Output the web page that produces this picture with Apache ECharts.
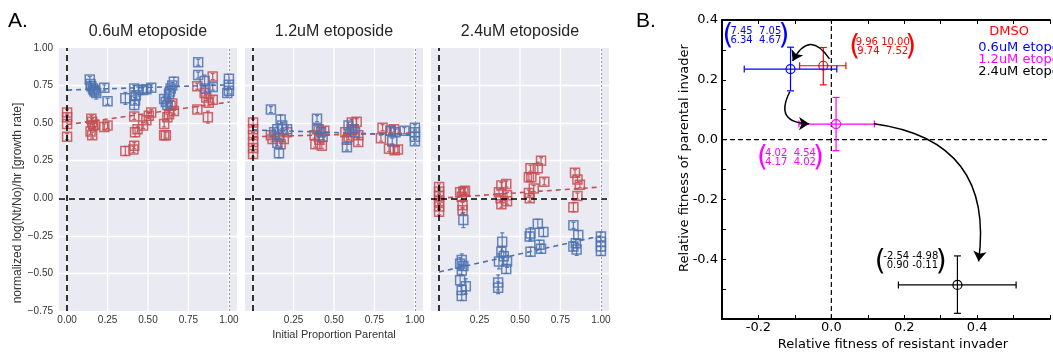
<!DOCTYPE html>
<html>
<head>
<meta charset="utf-8">
<script src="https://cdn.jsdelivr.net/npm/echarts@6/dist/echarts.min.js"></script>
<style>
  html, body { margin: 0; padding: 0; background: #fff; }
  #chart { width: 1053px; height: 354px; }
</style>
</head>
<body>
<div id="chart"></div>
<script>
// ---------- Panel A data: [initial proportion parental, growth rate, error] ----------
const panelTitles = ['0.6uM etoposide', '1.2uM etoposide', '2.4uM etoposide'];
const xGridTicks = [0, 0.25, 0.5, 0.75, 1.0];

const blueLow = [[0.14,0.79,0.02],[0.145,0.76,0.02],[0.15,0.745,0.02],[0.16,0.73,0.02],[0.165,0.72,0.02],[0.17,0.71,0.03],[0.18,0.70,0.04],[0.23,0.735,0.02],[0.25,0.645,0.02],[0.36,0.665,0.04],[0.415,0.73,0.02],[0.425,0.685,0.02],[0.42,0.65,0.02],[0.415,0.62,0.03],[0.44,0.72,0.02],[0.47,0.72,0.02],[0.49,0.725,0.02],[0.52,0.735,0.02],[0.60,0.66,0.02],[0.61,0.64,0.02],[0.62,0.62,0.02],[0.63,0.695,0.02],[0.635,0.71,0.02],[0.64,0.73,0.02],[0.65,0.75,0.02],[0.66,0.775,0.03],[0.81,0.905,0.02],[0.81,0.82,0.02],[0.85,0.78,0.04],[0.855,0.73,0.02],[0.90,0.74,0.02],[1.0,0.795,0.03],[1.0,0.755,0.02],[1.0,0.715,0.02],[0.99,0.70,0.02]];
const redLow = [[0.0,0.57,0.02],[0.0,0.54,0.02],[0.0,0.495,0.02],[0.0,0.41,0.02],[0.15,0.53,0.02],[0.155,0.51,0.02],[0.16,0.485,0.02],[0.145,0.445,0.02],[0.155,0.42,0.02],[0.17,0.49,0.02],[0.23,0.475,0.02],[0.25,0.485,0.02],[0.36,0.315,0.03],[0.41,0.325,0.02],[0.415,0.35,0.02],[0.42,0.44,0.03],[0.435,0.46,0.02],[0.415,0.545,0.02],[0.47,0.485,0.02],[0.49,0.52,0.02],[0.505,0.55,0.02],[0.52,0.57,0.02],[0.60,0.495,0.02],[0.60,0.42,0.03],[0.61,0.42,0.02],[0.62,0.54,0.02],[0.63,0.56,0.02],[0.64,0.615,0.02],[0.65,0.63,0.02],[0.66,0.58,0.02],[0.805,0.745,0.02],[0.805,0.59,0.02],[0.86,0.67,0.02],[0.87,0.54,0.04],[0.85,0.70,0.02],[0.90,0.81,0.02],[0.90,0.655,0.02],[0.875,0.635,0.02]];

const blueMid = [[0.11,0.59,0.02],[0.17,0.525,0.03],[0.18,0.485,0.02],[0.15,0.46,0.02],[0.13,0.44,0.02],[0.21,0.46,0.02],[0.16,0.30,0.03],[0.15,0.37,0.02],[0.395,0.53,0.02],[0.395,0.46,0.02],[0.42,0.44,0.02],[0.43,0.41,0.02],[0.58,0.34,0.02],[0.59,0.485,0.02],[0.61,0.46,0.02],[0.63,0.44,0.02],[0.85,0.45,0.02],[0.88,0.44,0.02],[0.935,0.45,0.02],[0.86,0.38,0.02],[1.0,0.47,0.02],[1.0,0.44,0.02],[1.0,0.41,0.02],[1.0,0.38,0.02]];
const redMid = [[0.0,0.505,0.02],[0.0,0.46,0.02],[0.0,0.42,0.02],[0.0,0.375,0.02],[0.0,0.335,0.02],[0.0,0.295,0.02],[0.11,0.42,0.02],[0.12,0.395,0.02],[0.16,0.41,0.02],[0.17,0.36,0.02],[0.19,0.395,0.02],[0.21,0.44,0.02],[0.38,0.42,0.02],[0.405,0.46,0.02],[0.44,0.45,0.02],[0.385,0.36,0.02],[0.425,0.35,0.02],[0.41,0.39,0.02],[0.57,0.44,0.02],[0.59,0.41,0.02],[0.58,0.39,0.02],[0.61,0.505,0.02],[0.64,0.51,0.02],[0.62,0.46,0.02],[0.65,0.42,0.02],[0.65,0.375,0.02],[0.80,0.47,0.02],[0.79,0.40,0.02],[0.85,0.45,0.02],[0.87,0.46,0.02],[0.84,0.33,0.02],[0.875,0.32,0.02],[0.895,0.325,0.02]];

const blueHigh = [[0.15,-0.145,0.05],[0.13,-0.435,0.04],[0.14,-0.41,0.04],[0.15,-0.45,0.03],[0.14,-0.48,0.03],[0.13,-0.545,0.04],[0.165,-0.585,0.05],[0.14,-0.61,0.03],[0.14,-0.65,0.03],[0.39,-0.29,0.06],[0.385,-0.355,0.03],[0.40,-0.385,0.03],[0.37,-0.42,0.05],[0.42,-0.42,0.04],[0.415,-0.47,0.03],[0.365,-0.56,0.05],[0.365,-0.595,0.04],[0.565,-0.235,0.04],[0.56,-0.255,0.03],[0.61,-0.17,0.03],[0.645,-0.225,0.03],[0.565,-0.355,0.03],[0.62,-0.31,0.03],[0.63,-0.335,0.03],[0.83,-0.18,0.02],[0.86,-0.245,0.03],[0.845,-0.30,0.03],[0.85,-0.34,0.04],[0.83,-0.32,0.03],[1.0,-0.255,0.03],[1.0,-0.29,0.03],[1.0,-0.32,0.03],[1.0,-0.35,0.03]];
const redHigh = [[0.0,0.075,0.02],[0.0,0.045,0.02],[0.0,0.015,0.02],[0.0,-0.02,0.02],[0.0,-0.055,0.02],[0.0,-0.09,0.02],[0.13,0.04,0.02],[0.15,0.045,0.02],[0.16,0.05,0.02],[0.14,0.01,0.02],[0.145,-0.047,0.02],[0.145,-0.08,0.02],[0.385,0.085,0.02],[0.415,0.095,0.02],[0.37,0.04,0.02],[0.38,0.0,0.02],[0.385,-0.04,0.02],[0.42,0.02,0.02],[0.42,-0.02,0.02],[0.565,0.2,0.02],[0.57,0.14,0.03],[0.555,0.14,0.02],[0.61,0.2,0.04],[0.63,0.25,0.02],[0.65,0.11,0.02],[0.585,0.065,0.02],[0.555,0.035,0.02],[0.56,0.0,0.02],[0.84,0.17,0.02],[0.855,0.125,0.02],[0.87,0.09,0.02],[0.855,0.015,0.02],[0.83,-0.06,0.03]];

// fitted lines: value at x=0 and x=1
const blueFit = [[0.72, 0.755], [0.455, 0.42], [-0.49, -0.25]];
const redFit = [[0.49, 0.64], [0.41, 0.435], [0.0, 0.075]];

// ---------- Panel B data ----------
const bNames = ['DMSO', '0.6uM etoposide', '1.2uM etoposide', '2.4uM etoposide'];
const bColors = ['#ff0000', '#0000ff', '#ff00ff', '#000000'];
const bX = [-0.022, -0.112, 0.013, 0.346];
const bY = [0.247, 0.236, 0.052, -0.486];
const bXLo = [-0.087, -0.239, -0.089, 0.184];
const bXHi = [0.040, 0.015, 0.118, 0.507];
const bYLo = [0.183, 0.163, -0.037, -0.581];
const bYHi = [0.308, 0.309, 0.141, -0.389];
const bMatrix = ['9.96 10.00\n9.74  7.52', '7.45  7.05\n6.34  4.67', '4.02  4.54\n4.17  4.02', '-2.54 -4.98\n 0.90 -0.11'];
const bMatrixAt = [[0.141, 0.31], [-0.207, 0.347], [-0.112, -0.06], [0.218, -0.407]];
// arrows: from, to, curveness
const bArrows = [
  [[-0.005, 0.27], [-0.106, 0.263], -0.84],
  [[-0.114, 0.16], [-0.061, 0.053], -0.8],
  [[0.117, 0.053], [0.404, -0.407], 0.5]
];
// legend text anchors (data coords of panel B)
const bLegendX = [0.488, 0.403, 0.403, 0.403];
const bLegendY = [0.361, 0.308, 0.267, 0.228];

const BLUE = '#4C72B0';
const RED = '#C44E52';
const SANS = '"Liberation Sans", Arial, sans-serif';
const DEJAVU = '"DejaVu Sans", sans-serif';

const chart = echarts.init(document.getElementById('chart'));

function squareRenderer(color) {
  return function (params, api) {
    const x = api.value(0), y = api.value(1), e = api.value(2);
    const c = api.coord([x, y]);
    const top = api.coord([x, y + e])[1];
    const bot = api.coord([x, y - e])[1];
    const h = 4.5;
    const ls = { stroke: color, lineWidth: 1.2, opacity: 0.9 };
    return {
      type: 'group',
      children: [
        { type: 'line', shape: { x1: c[0], y1: top, x2: c[0], y2: bot }, style: ls },
        { type: 'line', shape: { x1: c[0] - 2, y1: top, x2: c[0] + 2, y2: top }, style: ls },
        { type: 'line', shape: { x1: c[0] - 2, y1: bot, x2: c[0] + 2, y2: bot }, style: ls },
        { type: 'rect', shape: { x: c[0] - h, y: c[1] - h, width: 2 * h, height: 2 * h },
          style: { fill: 'rgba(0,0,0,0)', stroke: color, lineWidth: 1.5, opacity: 0.85 } }
      ]
    };
  };
}

function gridLineRenderer(params, api) {
  const a = api.coord([api.value(0), -0.75]);
  const b = api.coord([api.value(0), 1.0]);
  return { type: 'line', shape: { x1: a[0], y1: a[1], x2: b[0], y2: b[1] }, style: { stroke: '#ffffff', lineWidth: 1.3 } };
}

function crossRenderer(params, api) {
  const color = bColors[params.dataIndex];
  const c = api.coord([api.value(0), api.value(1)]);
  const xl = api.coord([api.value(2), api.value(1)])[0];
  const xh = api.coord([api.value(3), api.value(1)])[0];
  const yl = api.coord([api.value(0), api.value(4)])[1];
  const yh = api.coord([api.value(0), api.value(5)])[1];
  const cap = 3.5;
  const ls = { stroke: color, lineWidth: 1.2 };
  return {
    type: 'group',
    children: [
      { type: 'line', shape: { x1: xl, y1: c[1], x2: xh, y2: c[1] }, style: ls },
      { type: 'line', shape: { x1: c[0], y1: yl, x2: c[0], y2: yh }, style: ls },
      { type: 'line', shape: { x1: xl, y1: c[1] - cap, x2: xl, y2: c[1] + cap }, style: ls },
      { type: 'line', shape: { x1: xh, y1: c[1] - cap, x2: xh, y2: c[1] + cap }, style: ls },
      { type: 'line', shape: { x1: c[0] - cap, y1: yl, x2: c[0] + cap, y2: yl }, style: ls },
      { type: 'line', shape: { x1: c[0] - cap, y1: yh, x2: c[0] + cap, y2: yh }, style: ls },
      { type: 'circle', shape: { cx: c[0], cy: c[1], r: 4.5 }, style: { fill: 'rgba(0,0,0,0)', stroke: color, lineWidth: 1.2 } }
    ]
  };
}

const bluePanels = [blueLow, blueMid, blueHigh];
const redPanels = [redLow, redMid, redHigh];
const gridLefts = [59, 245, 431];

const grids = gridLefts.map(l => ({
  left: l, top: 48, width: 178, height: 263, show: true, backgroundColor: '#EAEAF2', borderWidth: 0
}));
grids.push({ left: 722, top: 20, width: 339, height: 299, show: false });

// x ticks every 0.05 from -0.05; only multiples of 0.25 are labelled
const xAxes = gridLefts.map((l, i) => ({
  gridIndex: i, type: 'value', min: -0.05, max: 1.05, interval: 0.05,
  axisLine: { show: false }, axisTick: { show: false }, splitLine: { show: false },
  axisLabel: {
    color: '#333', fontSize: 10, fontFamily: SANS, margin: 4,
    formatter: v => {
      const r = Math.round(v * 100);
      if (r < 0 || r > 100 || r % 25 !== 0 || (i > 0 && r === 0)) return '';
      return (r / 100).toFixed(2);
    }
  },
  name: i === 1 ? 'Initial Proportion Parental' : '',
  nameLocation: 'middle', nameGap: 16,
  nameTextStyle: { color: '#333', fontSize: 11, fontFamily: SANS }
}));
const bTickFmt = (v, lo) => {
  const r = Math.round(v * 10);
  if (r % 2 !== 0 || r < lo || r > 4) return '';
  return (r / 10).toFixed(1);
};
const bAxisBase = {
  type: 'value', interval: 0.1,
  axisLine: { show: true, onZero: false, lineStyle: { color: '#000', width: 2 } },
  axisTick: { show: true, inside: true, length: 4, lineStyle: { color: '#000', width: 1 } },
  splitLine: { show: false }
};
xAxes.push(Object.assign({}, bAxisBase, {
  gridIndex: 3, min: -0.3, max: 0.6, position: 'bottom',
  axisLabel: { color: '#000', fontSize: 13, fontFamily: DEJAVU, margin: 2, formatter: v => bTickFmt(v, -2) }
}));
xAxes.push(Object.assign({}, bAxisBase, {
  gridIndex: 3, min: -0.3, max: 0.6, position: 'top', axisLabel: { show: false }
}));

const yAxes = gridLefts.map((l, i) => ({
  gridIndex: i, type: 'value', min: -0.75, max: 1.0, interval: 0.25,
  axisLine: { show: false }, axisTick: { show: false },
  splitLine: { show: true, showMinLine: false, showMaxLine: false, lineStyle: { color: '#ffffff', width: 1.3 } },
  axisLabel: {
    show: i === 0, color: '#333', fontSize: 10, fontFamily: SANS, margin: 6,
    formatter: v => v < 0 ? '\u2212' + (-v).toFixed(2) : v.toFixed(2)
  }
}));
yAxes.push(Object.assign({}, bAxisBase, {
  gridIndex: 3, min: -0.6, max: 0.4,
  axisLabel: { color: '#000', fontSize: 13, fontFamily: DEJAVU, margin: 4, formatter: v => bTickFmt(v, -4) }
}));

const series = [];
for (let i = 0; i < 3; i++) {
  series.push({
    type: 'custom', xAxisIndex: i, yAxisIndex: i, data: xGridTicks.map(v => [v, 0]),
    encode: { x: 0, y: 1 }, renderItem: gridLineRenderer, silent: true, z: 1
  });
  series.push({
    type: 'custom', xAxisIndex: i, yAxisIndex: i, data: redPanels[i],
    encode: { x: 0, y: 1 }, renderItem: squareRenderer(RED), silent: true, z: 3
  });
  series.push({
    type: 'custom', xAxisIndex: i, yAxisIndex: i, data: bluePanels[i],
    encode: { x: 0, y: 1 }, renderItem: squareRenderer(BLUE), silent: true, z: 3
  });
  series.push({
    type: 'line', xAxisIndex: i, yAxisIndex: i, data: [[0, redFit[i][0]], [1, redFit[i][1]]],
    symbol: 'none', silent: true, z: 4,
    lineStyle: { color: RED, width: 1.6, type: [5, 4] }
  });
  series.push({
    type: 'line', xAxisIndex: i, yAxisIndex: i, data: [[0, blueFit[i][0]], [1, blueFit[i][1]]],
    symbol: 'none', silent: true, z: 4,
    lineStyle: { color: BLUE, width: 1.6, type: [5, 4] },
    markLine: {
      silent: true, symbol: 'none', label: { show: false }, animation: false,
      data: [
        { xAxis: 0, lineStyle: { color: '#000', width: 1.6, type: [6, 4] } },
        { yAxis: 0, lineStyle: { color: '#000', width: 1.6, type: [6, 4] } },
        { xAxis: 1, lineStyle: { color: '#999', width: 1, type: [2, 2] } }
      ]
    }
  });
}

// Panel B zero lines
series.push({
  type: 'line', xAxisIndex: 3, yAxisIndex: 3, data: [[0, -0.6], [0, 0.4]], symbol: 'none', silent: true,
  lineStyle: { color: '#000', width: 1.2, type: [5, 3] }
});
series.push({
  type: 'line', xAxisIndex: 3, yAxisIndex: 3, data: [[-0.3, 0], [0.6, 0]], symbol: 'none', silent: true,
  lineStyle: { color: '#000', width: 1.2, type: [5, 3] }
});
const bSeriesIndex = series.length;
series.push({
  type: 'custom', xAxisIndex: 3, yAxisIndex: 3,
  data: bX.map((x, i) => [x, bY[i], bXLo[i], bXHi[i], bYLo[i], bYHi[i]]),
  encode: { x: 0, y: 1 }, renderItem: crossRenderer, silent: true, z: 4
});
series.push({
  type: 'lines', coordinateSystem: 'cartesian2d', xAxisIndex: 3, yAxisIndex: 3,
  symbol: ['none', 'arrow'], symbolSize: 10, silent: true, z: 5,
  lineStyle: { color: '#000', width: 1.5, opacity: 1 },
  data: bArrows.map(a => ({ coords: [a[0], a[1]], lineStyle: { curveness: a[2] } }))
});

chart.setOption({
  animation: false,
  backgroundColor: '#ffffff',
  grid: grids,
  xAxis: xAxes,
  yAxis: yAxes,
  series: series
});

// ---------- text: titles, labels, annotations ----------
const graphic = [];
gridLefts.forEach((l, i) => {
  graphic.push({
    type: 'text', x: l + 89, y: 32,
    style: { text: panelTitles[i], fill: '#262626', fontSize: 16, fontFamily: SANS, align: 'center', verticalAlign: 'middle' }
  });
});
graphic.push({
  type: 'text', x: 18, y: 203, rotation: Math.PI / 2,
  style: { text: 'normalized log(Nt/No)/hr [growth rate]', fill: '#333', fontSize: 12, fontFamily: SANS, align: 'center', verticalAlign: 'middle' }
});
graphic.push({ type: 'text', x: 8, y: 21, style: { text: 'A.', fill: '#000', fontSize: 21, fontFamily: SANS, verticalAlign: 'middle' } });
graphic.push({ type: 'text', x: 636, y: 21, style: { text: 'B.', fill: '#000', fontSize: 21, fontFamily: SANS, verticalAlign: 'middle' } });
graphic.push({
  type: 'text', x: 685, y: 158, rotation: Math.PI / 2,
  style: { text: 'Relative fitness of parental invader', fill: '#000', fontSize: 13, fontFamily: DEJAVU, align: 'center', verticalAlign: 'middle' }
});
graphic.push({
  type: 'text', x: 893, y: 345,
  style: { text: 'Relative fitness of resistant invader', fill: '#000', fontSize: 13, fontFamily: DEJAVU, align: 'center', verticalAlign: 'middle' }
});

const finder = { seriesIndex: bSeriesIndex };
bMatrix.forEach((txt, i) => {
  const p = chart.convertToPixel(finder, bMatrixAt[i]);
  const longest = Math.max.apply(null, txt.split('\n').map(s => s.trim().length));
  const off = 2.5 * longest + 3;
  graphic.push({
    type: 'text', x: p[0], y: p[1],
    style: { text: txt, fill: bColors[i], fontSize: 10, lineHeight: 9, fontFamily: DEJAVU, align: 'center', verticalAlign: 'middle' }
  });
  ['(', ')'].forEach((ch, k) => {
    graphic.push({
      type: 'text', x: p[0] + (k === 0 ? -off : off), y: p[1] + 1,
      style: { text: ch, fill: bColors[i], fontSize: 28, fontFamily: DEJAVU, align: 'center', verticalAlign: 'middle' }
    });
  });
});
bNames.forEach((name, i) => {
  const p = chart.convertToPixel(finder, [bLegendX[i], bLegendY[i]]);
  graphic.push({
    type: 'text', x: p[0], y: p[1],
    style: { text: name, fill: bColors[i], fontSize: 13, fontFamily: DEJAVU, align: i === 0 ? 'center' : 'left', verticalAlign: 'middle' }
  });
});

chart.setOption({ graphic: graphic });
window.addEventListener('resize', () => chart.resize());
</script>
</body>
</html>
